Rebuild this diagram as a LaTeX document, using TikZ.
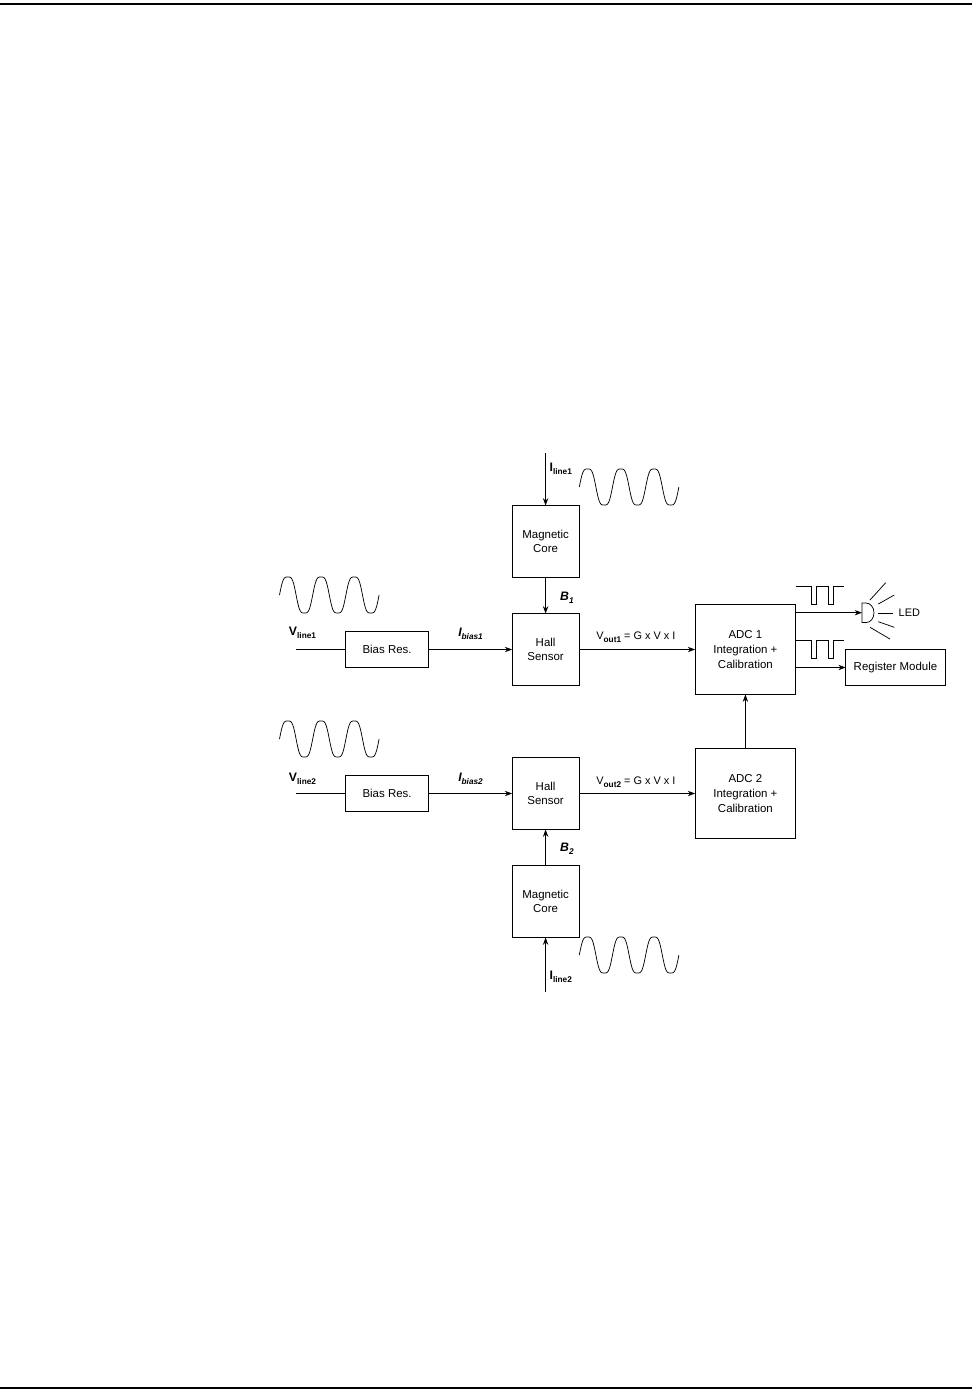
\documentclass[tikz,border=0pt]{standalone}
\usepackage{fontspec}
\setmainfont{Liberation Sans}
\usepackage{tikz}
\usetikzlibrary{arrows.meta,positioning}
\newcommand{\sublbl}[2]{#1\raisebox{-2.2pt}{\fontsize{6.2}{7}\selectfont #2}}
% one sine of three periods, from its start point
\newcommand{\wave}[2]{\draw[wire] plot[domain=0:3,samples=121,smooth]
  ({#1+33.2*\x},{#2-20.2*(sin(360*\x)+0.11*sin(1080*\x))});}
% square line with two low pulses
\newcommand{\pulses}[2]{\draw[wire] (#1,#2) -- ++(16,0) -- ++(0,18) -- ++(5,0) -- ++(0,-18)
  -- ++(11.5,0) -- ++(0,18) -- ++(5,0) -- ++(0,-18) -- ++(11,0);}

\begin{document}
\begin{tikzpicture}[x=0.75pt,y=-0.75pt,>={Stealth[length=5.5pt,width=4pt]},
  wire/.style={line width=0.55pt},
  blk/.style={draw,line width=0.55pt,align=center,outer sep=0pt,inner sep=1pt,
              font=\fontsize{8.6}{11}\selectfont},
  core/.style={blk,minimum width=50.2pt,minimum height=54pt},
  res/.style={blk,minimum width=62.6pt,minimum height=27.5pt},
  adc/.style={blk,minimum width=75.5pt,minimum height=67.5pt},
  lbl/.style={inner sep=0pt,outer sep=0pt,font=\fontsize{9.2}{11}\selectfont\bfseries},
  ital/.style={lbl,font=\fontsize{9.2}{11}\selectfont\bfseries\itshape},
  eqn/.style={inner sep=0pt,outer sep=0pt,font=\fontsize{8.2}{11}\selectfont}]
\useasboundingbox (0,0) rectangle (972,1397);
\draw[line width=1.5pt] (0,4) -- (972,4);
\draw[line width=1.5pt] (0,1388) -- (972,1388);
% upper channel
\node (hall1) [core] at (545.6,649.5) {Hall\\ Sensor};
\node (core1) [core,above=27pt of hall1] {Magnetic\\ Core};
\node (bias1) [res,left=62.5pt of hall1] {Bias Res.};
\node (adc1)  [adc,right=87pt of hall1] {ADC 1\\ Integration +\\ Calibration};
\node (reg)   [blk,right=37.5pt of adc1,yshift=-13.5pt,minimum width=74.6pt,minimum height=27.5pt]
      {Register Module};
\coordinate [above=39.5pt of core1.north] (iin1);
\coordinate [left=37pt of bias1.west] (vin1);
% lower channel
\node (adc2)  [adc,below=40.5pt of adc1] {ADC 2\\ Integration +\\ Calibration};
\node (hall2) [core,left=87pt of adc2] {Hall\\ Sensor};
\node (core2) [core,below=27pt of hall2] {Magnetic\\ Core};
\node (bias2) [res,left=62.5pt of hall2] {Bias Res.};
\coordinate [below=41pt of core2.south] (iin2);
\coordinate [left=37pt of bias2.west] (vin2);
% led
\coordinate (led) at (862,612.7);
\node (ledtxt) [eqn,right=27.5pt of led] {LED};
\draw[wire] (led) ++(0,-9.7) -- ++(4,0) arc (-90:90:8 and 9.8) -- ++(-4,0) -- cycle;
\draw[wire] (870,600) -- (885.7,582.7);
\draw[wire] (878.3,604) -- (894.3,595);
\draw[wire] (878.3,613.3) -- (893.3,613.3);
\draw[wire] (878.3,621.7) -- (894.3,627.3);
\draw[wire] (870,627.3) -- (890,639);
% labels
\node (iline1) [lbl,right=3pt of iin1,yshift=-12pt] {\sublbl{I}{line1}};
\node (vline1) [lbl,left=22pt of bias1,yshift=12.2pt] {\sublbl{V}{line1}};
\node (ibias1) [ital,left=22pt of hall1,yshift=11.5pt] {\sublbl{I}{bias1}};
\node (bf1)    [ital,above=7.5pt of hall1.north,xshift=16pt] {\sublbl{B}{1}};
\node (vout1)  [eqn,right=13pt of hall1,yshift=9pt] {\sublbl{V}{\textbf{out1}} = G x V x I};
\node (iline2) [lbl,right=3pt of iin2,yshift=11.2pt] {\sublbl{I}{line2}};
\node (vline2) [lbl,left=22pt of bias2,yshift=11pt] {\sublbl{V}{line2}};
\node (ibias2) [ital,left=22pt of hall2,yshift=10.8pt] {\sublbl{I}{bias2}};
\node (bf2)    [ital,below=10.5pt of hall2.south,xshift=16pt] {\sublbl{B}{2}};
\node (vout2)  [eqn,right=13pt of hall2,yshift=8.3pt] {\sublbl{V}{\textbf{out2}} = G x V x I};
% connectors
\draw[wire,->] (iin1) -- (core1);  \draw[wire,->] (core1) -- (hall1);
\draw[wire] (vin1) -- (bias1);     \draw[wire,->] (bias1) -- (hall1);
\draw[wire,->] (hall1) -- (adc1);  \draw[wire,->] (adc2) -- (adc1);
\draw[wire] (vin2) -- (bias2);     \draw[wire,->] (bias2) -- (hall2);
\draw[wire,->] (hall2) -- (adc2);
\draw[wire,->] (core2) -- (hall2); \draw[wire,->] (iin2) -- (core2);
\draw[wire,->] (led -| adc1.east) -- (led);
\draw[wire,->] (reg.west -| adc1.east) -- (reg.west);
% signals
\wave{579.3}{487}
\wave{279.5}{595}
\wave{279.5}{739}
\wave{579.3}{955}
\pulses{795.7}{586}
\pulses{795.7}{640}
\end{tikzpicture}
\end{document}
